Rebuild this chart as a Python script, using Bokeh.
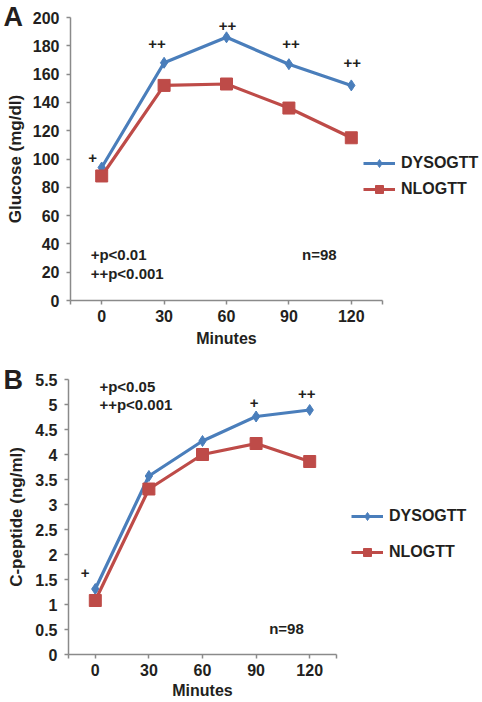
import numpy as np
from bokeh.plotting import figure
from bokeh.models import Legend, LegendItem, FixedTicker, Range1d, Label
from bokeh.layouts import column
from bokeh.embed import file_html
from bokeh.resources import INLINE
from bokeh.core.properties import value

# ---------------- data ----------------
minutes = [0, 30, 60, 90, 120]
glucose_dys = [94, 168, 186, 167, 152]
glucose_nl = [88, 152, 153, 136, 115]
cpep_dys = [1.31, 3.57, 4.27, 4.76, 4.89]
cpep_nl = [1.08, 3.31, 4.00, 4.22, 3.86]

x_ticks = [-15, 0, 30, 60, 90, 120, 135]
x_tick_labels = ["", "0", "30", "60", "90", "120", ""]
glucose_ticks = [0, 20, 40, 60, 80, 100, 120, 140, 160, 180, 200]
cpep_ticks = [0, 0.5, 1, 1.5, 2, 2.5, 3, 3.5, 4, 4.5, 5, 5.5]

series_names = ["DYSOGTT", "NLOGTT"]

sig_a_text = ["+", "++", "++", "++", "++"]
sig_a_x = [-4.4, 26.6, 60.5, 91, 120.5]
sig_a_y = [101, 181, 194, 181, 167.5]

sig_b_text = ["+", "+", "++"]
sig_b_x = [-5.7, 88.9, 118.3]
sig_b_y = [1.64, 5.04, 5.22]

note_a = ["+p<0.01", "++p<0.001", "n=98"]
note_a_x = [-5.3, -5.3, 96.3]
note_a_y = [32.5, 19, 32.5]

note_b = ["+p<0.05", "++p<0.001", "n=98"]
note_b_x = [2.3, 2.3, 97.3]
note_b_y = [5.36, 5.0, 0.52]

BLUE = "#4a7ebb"
RED = "#be4b48"
TXT = "#231f20"
AX = "#8a8a8a"
FONT = "Liberation Sans"
X0, X1 = -15, 135


def make_panel(W, H, box, yr, yticks, ylab, d1, d2, sig, notes, letter,
               letter_py, legend_loc, legend_spacing, ylab_standoff,
               xlab_standoff):
    # box: pixel position of the axes rectangle inside this figure
    pl, pr, pt, pb = box
    y0, y1 = yr
    sx = (pr - pl) / (X1 - X0)
    sy = (pb - pt) / (y1 - y0)
    xr = Range1d(X0 - pl / sx, X1 + (W - pr) / sx)
    yrng = Range1d(y0 - (H - pb) / sy, y1 + pt / sy)

    p = figure(width=W, height=H, output_backend="svg", toolbar_location=None,
               x_range=xr, y_range=yrng, min_border=0)
    p.min_border_left = 0
    p.min_border_right = 0
    p.min_border_top = 0
    p.min_border_bottom = 0
    if "frame_align" in p.properties():
        p.frame_align = False
    p.outline_line_color = None
    p.grid.visible = False
    for ax in (p.xaxis[0], p.yaxis[0]):
        ax.axis_line_color = AX
        ax.axis_line_width = 1.5
        ax.major_tick_line_color = AX
        ax.major_tick_line_width = 1.5
        ax.major_tick_out = 4
        ax.major_tick_in = 0
        ax.minor_tick_line_color = None
        ax.major_label_text_font = FONT
        ax.major_label_text_font_style = "bold"
        ax.major_label_text_font_size = "16px"
        ax.major_label_text_color = TXT
        ax.axis_label_text_font = FONT
        ax.axis_label_text_font_style = "bold"
        ax.axis_label_text_color = TXT
    p.xaxis.fixed_location = y0
    p.xaxis.bounds = (X0, X1)
    p.yaxis.fixed_location = X0
    p.yaxis.bounds = (y0, y1)
    p.xaxis.ticker = FixedTicker(ticks=x_ticks)
    p.xaxis.major_label_overrides = dict(zip(x_ticks, x_tick_labels))
    p.yaxis.ticker = FixedTicker(ticks=yticks)
    p.yaxis.major_label_overrides = {t: f"{t:g}" for t in yticks}
    p.xaxis.major_label_standoff = 5
    p.yaxis.major_label_standoff = 7
    p.xaxis.axis_label = "Minutes"
    p.xaxis.axis_label_text_font_size = "16px"
    p.xaxis.axis_label_standoff = xlab_standoff
    p.yaxis.axis_label = ylab
    p.yaxis.axis_label_text_font_size = "17px"
    p.yaxis.axis_label_standoff = ylab_standoff

    l1 = p.line(minutes, d1, line_color=BLUE, line_width=3.2)
    m1 = p.scatter(minutes, d1, marker="diamond", size=11,
                   fill_color=BLUE, line_color=BLUE)
    l2 = p.line(minutes, d2, line_color=RED, line_width=3.2)
    m2 = p.scatter(minutes, d2, marker="square", size=12,
                   fill_color=RED, line_color=RED)

    sxs, sys_, st = sig
    p.text(sxs, sys_, text=st, text_font=value(FONT), text_font_style="bold",
           text_font_size="15px", text_color=TXT, text_align="center",
           text_baseline="middle")
    nx, ny, nt = notes
    p.text(nx, ny, text=nt, text_font=value(FONT), text_font_style="bold",
           text_font_size="15px", text_color=TXT, text_align="left",
           text_baseline="middle")

    p.add_layout(Label(x=xr.start + 3 / sx, y=y1 + (pt - letter_py) / sy,
                       text=letter, text_font=FONT, text_font_style="bold",
                       text_font_size="27px", text_color=TXT,
                       text_baseline="middle", text_align="left"))

    legend = Legend(items=[LegendItem(label=series_names[0], renderers=[l1, m1]),
                           LegendItem(label=series_names[1], renderers=[l2, m2])],
                    location=legend_loc, orientation="vertical")
    legend.background_fill_alpha = 0
    legend.border_line_alpha = 0
    legend.padding = 0
    legend.margin = 0
    legend.spacing = legend_spacing
    legend.glyph_width = 32
    legend.glyph_height = 20
    legend.label_height = 20
    legend.label_standoff = 6
    legend.label_text_font = FONT
    legend.label_text_font_style = "bold"
    legend.label_text_font_size = "16px"
    legend.label_text_color = TXT
    legend.label_text_baseline = "middle"
    p.add_layout(legend)
    return p


pA = make_panel(482, 350, (70, 382, 17, 300), (0, 200), glucose_ticks,
                "Glucose (mg/dl)", glucose_dys, glucose_nl,
                (sig_a_x, sig_a_y, sig_a_text),
                (note_a_x, note_a_y, note_a), "A", 16,
                (363, 151), 6, 5, 5)

pB = make_panel(482, 352, (68, 336, 29, 304), (0, 5.5), cpep_ticks,
                "C-peptide (ng/ml)", cpep_dys, cpep_nl,
                (sig_b_x, sig_b_y, sig_b_text),
                (note_b_x, note_b_y, note_b), "B", 29,
                (351, 140), 16, 6, 3)

layout = column(pA, pB, spacing=0)
open("out.html", "w").write(file_html(layout, INLINE))
